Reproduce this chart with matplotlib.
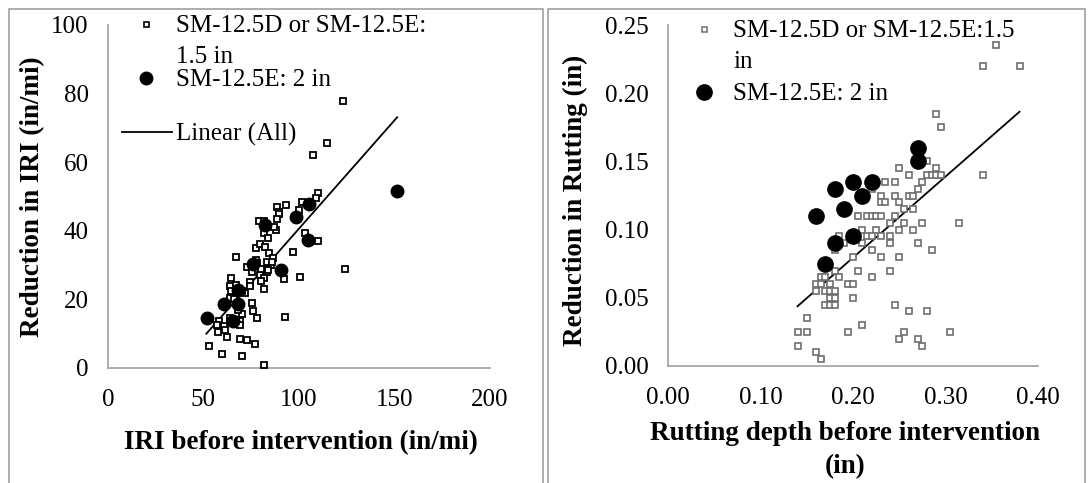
import matplotlib
matplotlib.use("Agg")
import matplotlib.pyplot as plt
from matplotlib.lines import Line2D
from matplotlib.patches import Rectangle
import numpy as np

plt.rcParams['font.family'] = ['Liberation Serif', 'DejaVu Serif']

# ---------------- Data: IRI panel ----------------
iri_15_x = [122.8, 114.6, 107.2, 110.0, 109.0, 101.8, 100.1, 93.4, 88.6, 89.3, 89.5, 88.4,
            78.8, 81.7, 82.0, 81.7, 84.0, 88.2, 86.9, 103.4, 109.7, 96.9, 124.0, 100.4,
            91.9, 92.9, 67.1, 77.4, 79.5, 82.1, 84.3, 86.5, 85.6, 77.7, 72.8, 75.5, 83.5,
            79.5, 81.6, 81.6, 74.2, 74.6, 64.5, 63.8, 64.6, 67.2, 71.6, 63.8, 75.6, 75.9,
            78.0, 70.4, 58.2, 57.1, 60.6, 57.6, 62.5, 69.3, 72.8, 77.0, 52.8, 59.6, 70.2,
            81.9, 65.5, 69.3, 69.3, 78.0, 80.0, 83.0, 76.0, 70.0, 66.0, 68.0, 61.0, 64.0,
            80.0, 84.0, 86.0]
iri_15_y = [77.9, 65.5, 62.0, 51.1, 49.5, 48.5, 46.0, 47.5, 47.0, 45.4, 44.8, 43.4,
            43.0, 43.0, 41.5, 39.4, 37.9, 40.1, 41.0, 39.5, 37.1, 33.9, 29.0, 26.6,
            26.0, 15.0, 32.5, 34.9, 36.2, 35.4, 33.6, 32.1, 30.0, 31.6, 29.5, 28.0, 28.0,
            27.0, 26.1, 23.1, 25.1, 23.8, 26.1, 23.9, 22.5, 24.1, 21.9, 20.4, 19.0, 16.5,
            14.5, 15.6, 13.7, 12.5, 12.2, 10.5, 9.0, 8.4, 8.1, 6.9, 6.5, 4.0, 3.5,
            1.0, 13.9, 13.6, 12.5, 30.5, 29.0, 31.0, 29.8, 22.5, 20.0, 17.0, 11.0, 14.5,
            25.5, 28.5, 31.0]
iri_2_x = [51.9, 60.6, 68.3, 65.5, 68.3, 76.0, 82.2, 90.5, 98.3, 105.2, 104.8, 151.1]
iri_2_y = [14.6, 18.6, 18.6, 13.6, 22.7, 30.4, 41.6, 28.7, 44.1, 47.7, 37.3, 51.6]
iri_trend_x = [51.5, 151.4]
iri_trend_y = [10.0, 73.1]
iri_xticks = [0, 50, 100, 150, 200]
iri_yticks = [0, 20, 40, 60, 80, 100]

# ---------------- Data: Rutting panel ----------------
rut_15_x = [0.355, 0.34, 0.38, 0.29, 0.295, 0.28, 0.25, 0.29, 0.34, 0.26,
            0.28, 0.285, 0.29, 0.295, 0.275, 0.235, 0.245, 0.27, 0.22,
            0.23, 0.245, 0.26, 0.265, 0.23, 0.235, 0.25, 0.255, 0.265,
            0.205, 0.215, 0.22, 0.225, 0.23, 0.245, 0.24, 0.255, 0.275, 0.315,
            0.185, 0.21, 0.225, 0.25, 0.265, 0.19, 0.21, 0.215, 0.22, 0.23, 0.24,
            0.24, 0.27, 0.18, 0.22, 0.285, 0.20, 0.23, 0.25, 0.18, 0.205, 0.24,
            0.165, 0.17, 0.185, 0.22, 0.16, 0.165, 0.175, 0.195, 0.20,
            0.16, 0.17, 0.175, 0.18, 0.175, 0.18, 0.20, 0.17, 0.175, 0.18, 0.245,
            0.15, 0.26, 0.28, 0.14, 0.15, 0.195, 0.21, 0.255, 0.305,
            0.14, 0.25, 0.27, 0.275, 0.16, 0.165]
rut_15_y = [0.235, 0.22, 0.22, 0.185, 0.175, 0.15, 0.145, 0.145, 0.14, 0.14,
            0.14, 0.14, 0.14, 0.14, 0.135, 0.135, 0.135, 0.13, 0.13,
            0.125, 0.125, 0.125, 0.125, 0.12, 0.12, 0.12, 0.115, 0.115,
            0.11, 0.11, 0.11, 0.11, 0.11, 0.11, 0.105, 0.105, 0.105, 0.105,
            0.095, 0.10, 0.10, 0.10, 0.10, 0.09, 0.09, 0.095, 0.095, 0.095, 0.095,
            0.09, 0.09, 0.085, 0.085, 0.085, 0.08, 0.08, 0.08, 0.07, 0.07, 0.07,
            0.065, 0.065, 0.065, 0.065, 0.06, 0.06, 0.06, 0.06, 0.06,
            0.055, 0.055, 0.055, 0.055, 0.05, 0.05, 0.05, 0.045, 0.045, 0.045, 0.045,
            0.035, 0.04, 0.04, 0.025, 0.025, 0.025, 0.03, 0.025, 0.025,
            0.015, 0.02, 0.02, 0.015, 0.01, 0.005]
rut_2_x = [0.16, 0.17, 0.18, 0.18, 0.19, 0.20, 0.20, 0.21, 0.22, 0.27, 0.27]
rut_2_y = [0.11, 0.075, 0.13, 0.09, 0.115, 0.135, 0.095, 0.125, 0.135, 0.16, 0.15]
rut_trend_x = [0.14, 0.38]
rut_trend_y = [0.0438, 0.1864]
rut_xticks = [0.0, 0.1, 0.2, 0.3, 0.4]
rut_yticks = [0.0, 0.05, 0.10, 0.15, 0.20, 0.25]

W, H = 1088, 483
fig = plt.figure(figsize=(W / 100, H / 100), dpi=100)

def fx(px):
    return px / W

def fy(py):
    return 1 - py / H

SPINE = '#a6a6a6'
TICK_FS = 18
LAB_FS = 19.5

# Panel borders
fig.add_artist(Rectangle((fx(9), fy(490)), fx(534), (490 - 9) / H, transform=fig.transFigure,
                         fill=False, edgecolor='#a0a0a0', linewidth=1.2))
fig.add_artist(Rectangle((fx(548), fy(490)), fx(537), (490 - 9) / H, transform=fig.transFigure,
                         fill=False, edgecolor='#a0a0a0', linewidth=1.2))

def style_axes(ax):
    for s in ['top', 'right']:
        ax.spines[s].set_visible(False)
    for s in ['left', 'bottom']:
        ax.spines[s].set_color(SPINE)
        ax.spines[s].set_linewidth(1.3)
    ax.tick_params(length=0, labelsize=TICK_FS)
    ax.tick_params(axis='x', pad=15)
    ax.tick_params(axis='y', pad=14)

# ---------------- Left panel ----------------
ax1 = fig.add_axes([fx(108), fy(368), fx(490) - fx(108), (368 - 25) / H])
ax1.plot(iri_trend_x, iri_trend_y, color='black', linewidth=1.3, zorder=2)
ax1.plot(iri_15_x, iri_15_y, linestyle='none', marker='s', markersize=4.3,
         markerfacecolor='white', markeredgecolor='black', markeredgewidth=1.3, zorder=3)
ax1.plot(iri_2_x, iri_2_y, linestyle='none', marker='o', markersize=9,
         markerfacecolor='black', markeredgecolor='black', zorder=4)
ax1.set_xlim(0, 200)
ax1.set_ylim(0, 100)
ax1.set_xticks(iri_xticks)
ax1.set_yticks(iri_yticks)
ax1.set_xticklabels([str(v) for v in iri_xticks])
ax1.set_yticklabels([str(v) for v in iri_yticks])
style_axes(ax1)
fig.text(fx(301), fy(443), 'IRI before intervention (in/mi)', ha='center', va='center',
         fontsize=LAB_FS, fontweight='bold')
fig.text(fx(33), fy(197), 'Reduction in IRI (in/mi)', ha='center', va='center',
         rotation=90, fontsize=LAB_FS, fontweight='bold')

# Left legend
fig.add_artist(Line2D([fx(146)], [fy(24)], transform=fig.transFigure, linestyle='none',
                      marker='s', markersize=3.6, markerfacecolor='white',
                      markeredgecolor='black', markeredgewidth=1.2))
fig.text(fx(176), fy(26), 'SM-12.5D or SM-12.5E:', ha='left', va='center', fontsize=TICK_FS)
fig.text(fx(176), fy(57), '1.5 in', ha='left', va='center', fontsize=TICK_FS)
fig.add_artist(Line2D([fx(146)], [fy(78)], transform=fig.transFigure, linestyle='none',
                      marker='o', markersize=9, markerfacecolor='black', markeredgecolor='black'))
fig.text(fx(176), fy(80), 'SM-12.5E: 2 in', ha='left', va='center', fontsize=TICK_FS)
fig.add_artist(Line2D([fx(122), fx(172)], [fy(132), fy(132)], transform=fig.transFigure,
                      color='black', linewidth=1.3))
fig.text(fx(176), fy(134), 'Linear (All)', ha='left', va='center', fontsize=TICK_FS)

# ---------------- Right panel ----------------
ax2 = fig.add_axes([fx(668), fy(366), fx(1038) - fx(668), (366 - 25) / H])
ax2.plot(rut_trend_x, rut_trend_y, color='black', linewidth=1.3, zorder=2)
ax2.plot(rut_15_x, rut_15_y, linestyle='none', marker='s', markersize=4.0,
         markerfacecolor='white', markeredgecolor='#6e6e6e', markeredgewidth=1.2, zorder=3)
ax2.plot(rut_2_x, rut_2_y, linestyle='none', marker='o', markersize=11,
         markerfacecolor='black', markeredgecolor='black', zorder=4)
ax2.set_xlim(0, 0.4)
ax2.set_ylim(0, 0.25)
ax2.set_xticks(rut_xticks)
ax2.set_yticks(rut_yticks)
ax2.set_xticklabels(['%.2f' % v for v in rut_xticks])
ax2.set_yticklabels(['%.2f' % v for v in rut_yticks])
style_axes(ax2)
fig.text(fx(845), fy(433), 'Rutting depth before intervention', ha='center', va='center',
         fontsize=LAB_FS, fontweight='bold')
fig.text(fx(845), fy(467), '(in)', ha='center', va='center',
         fontsize=LAB_FS, fontweight='bold')
fig.text(fx(575), fy(200), 'Reduction in Rutting (in)', ha='center', va='center',
         rotation=90, fontsize=LAB_FS, fontweight='bold')

# Right legend
fig.add_artist(Line2D([fx(704)], [fy(29)], transform=fig.transFigure, linestyle='none',
                      marker='s', markersize=3.6, markerfacecolor='white',
                      markeredgecolor='#6e6e6e', markeredgewidth=1.1))
fig.text(fx(733), fy(31), 'SM-12.5D or SM-12.5E:1.5', ha='left', va='center', fontsize=TICK_FS)
fig.text(fx(733), fy(62), 'in', ha='left', va='center', fontsize=TICK_FS)
fig.add_artist(Line2D([fx(704)], [fy(92)], transform=fig.transFigure, linestyle='none',
                      marker='o', markersize=11, markerfacecolor='black', markeredgecolor='black'))
fig.text(fx(733), fy(94), 'SM-12.5E: 2 in', ha='left', va='center', fontsize=TICK_FS)

fig.savefig('out.png', dpi=100)
